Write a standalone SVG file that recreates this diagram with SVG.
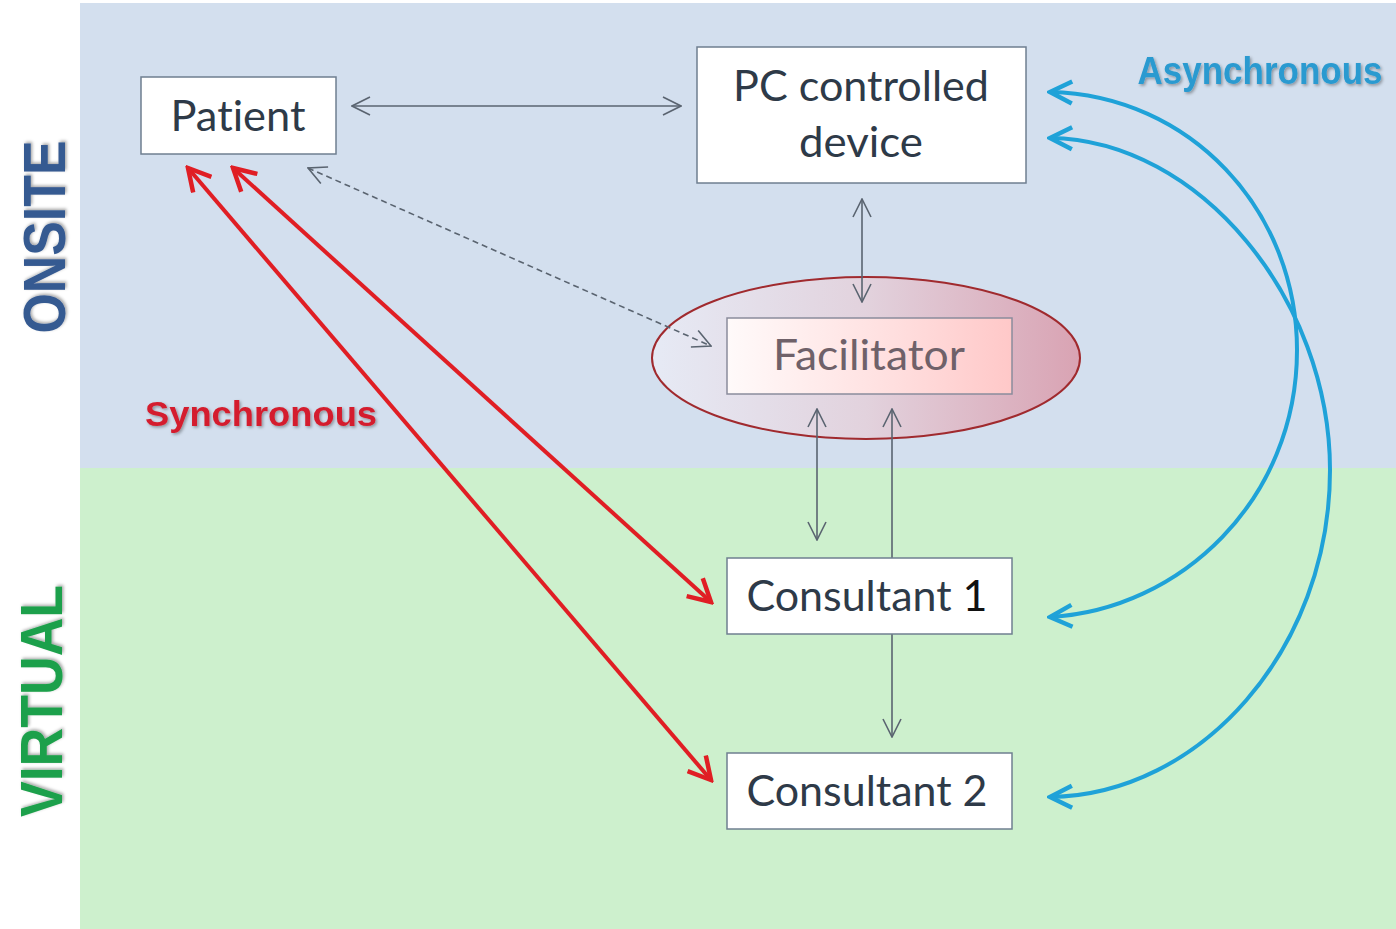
<svg xmlns="http://www.w3.org/2000/svg" width="1396" height="929" viewBox="0 0 1396 929">
  <style>
    .box { fill: #ffffff; stroke: #6f7f90; stroke-width: 1.5; }
    .lbl { font-family: Lato, "Open Sans", "Liberation Sans", sans-serif; font-size: 43px; fill: #2e3a48; text-anchor: middle; font-variant-ligatures: none; }
    .side { font-family: "Liberation Sans", Arial, sans-serif; font-weight: bold; font-size: 60px; text-anchor: middle; }
    .mode { font-family: "Liberation Sans", Arial, sans-serif; font-weight: bold; }
    .thin { fill: none; stroke: #5a6470; stroke-width: 1.6; }
    .dash { fill: none; stroke: #5a6470; stroke-width: 1.6; stroke-dasharray: 6 4; }
    .sync { fill: none; stroke: #e01e24; stroke-width: 4; }
    .async { fill: none; stroke: #1fa2d8; stroke-width: 4; }
  </style>
  <defs>
    <marker id="headThin" viewBox="0 0 20 20" markerWidth="20" markerHeight="20" refX="19" refY="10" orient="auto-start-reverse" markerUnits="userSpaceOnUse">
      <path d="M1,1 L19,10 L1,19" fill="none" stroke="#5a6470" stroke-width="1.6"/>
    </marker>
    <marker id="headRed" viewBox="0 0 28 28" markerWidth="28" markerHeight="28" refX="25" refY="14" orient="auto-start-reverse" markerUnits="userSpaceOnUse">
      <path d="M3,2 L25,14 L3,26" fill="none" stroke="#e01e24" stroke-width="4.5" stroke-linejoin="miter"/>
    </marker>
    <marker id="headBlue" viewBox="0 0 28 28" markerWidth="28" markerHeight="28" refX="25" refY="14" orient="auto-start-reverse" markerUnits="userSpaceOnUse">
      <path d="M3,3 L25,14 L3,25" fill="none" stroke="#1fa2d8" stroke-width="4.5" stroke-linejoin="miter"/>
    </marker>
    <linearGradient id="ovalFill" x1="0" y1="0" x2="1" y2="0">
      <stop offset="0" stop-color="#e6eaf5"/>
      <stop offset="0.5" stop-color="#e2d2dd"/>
      <stop offset="1" stop-color="#d9a3b3"/>
    </linearGradient>
    <linearGradient id="facFill" x1="0" y1="0" x2="1" y2="0">
      <stop offset="0" stop-color="#fffafa"/>
      <stop offset="0.6" stop-color="#ffdede"/>
      <stop offset="1" stop-color="#ffc8c8"/>
    </linearGradient>
    <filter id="soft" x="-3%" y="-15%" width="106%" height="130%">
      <feDropShadow dx="1.5" dy="1.5" stdDeviation="1.5" flood-color="#000" flood-opacity="0.35"/>
    </filter>
  </defs>

  <!-- page and zones -->
  <rect x="0" y="0" width="1396" height="929" fill="#ffffff"/>
  <rect x="80" y="3" width="1316" height="465" fill="#d3dfee"/>
  <rect x="80" y="468" width="1316" height="461" fill="#cdf0cd"/>

  <!-- zone titles -->
  <text class="side" fill="#365a91" filter="url(#soft)" textLength="193" lengthAdjust="spacingAndGlyphs" transform="translate(65,237) rotate(-90)">ONSITE</text>
  <text class="side" fill="#1ea04c" filter="url(#soft)" textLength="232" lengthAdjust="spacingAndGlyphs" transform="translate(62,701) rotate(-90)">VIRTUAL</text>

  <!-- mode labels -->
  <text class="mode" x="261" y="426" font-size="35" fill="#d41f2d" text-anchor="middle" textLength="232" lengthAdjust="spacingAndGlyphs" filter="url(#soft)">Synchronous</text>
  <text class="mode" font-size="35" fill="#2a9ad0" text-anchor="middle" filter="url(#soft)" transform="translate(1260,84) scale(1,1.12)">Asynchronous</text>

  <!-- facilitator highlight oval -->
  <g id="facilitator-oval">
    <ellipse cx="866" cy="358" rx="214" ry="81" fill="url(#ovalFill)" stroke="#a02a2e" stroke-width="2"/>
  </g>

  <!-- connectors -->
  <g id="connectors">
    <line class="thin" x1="352" y1="106" x2="681" y2="106" marker-start="url(#headThin)" marker-end="url(#headThin)"/>
    <line class="thin" x1="862" y1="199" x2="862" y2="302" marker-start="url(#headThin)" marker-end="url(#headThin)"/>
    <line class="dash" x1="308" y1="168" x2="711" y2="346" marker-start="url(#headThin)" marker-end="url(#headThin)"/>
    <line class="thin" x1="817" y1="409" x2="817" y2="540" marker-start="url(#headThin)" marker-end="url(#headThin)"/>
    <line class="thin" x1="892" y1="558" x2="892" y2="409" marker-end="url(#headThin)"/>
    <line class="thin" x1="892" y1="634" x2="892" y2="737" marker-end="url(#headThin)"/>
    <line class="sync" x1="188" y1="168" x2="711" y2="780" marker-start="url(#headRed)" marker-end="url(#headRed)"/>
    <line class="sync" x1="233" y1="168" x2="711" y2="602" marker-start="url(#headRed)" marker-end="url(#headRed)"/>
    <path class="async" d="M1050,92 C1190,95 1297,210 1297,350 C1297,500 1180,610 1050,617" marker-start="url(#headBlue)" marker-end="url(#headBlue)"/>
    <path class="async" d="M1050,138 C1200,140 1330,300 1330,470 C1330,650 1200,795 1050,797" marker-start="url(#headBlue)" marker-end="url(#headBlue)"/>
  </g>

  <!-- nodes -->
  <g id="patient">
    <rect class="box" x="141" y="77" width="195" height="77"/>
    <text class="lbl" x="238" y="131" textLength="135" lengthAdjust="spacingAndGlyphs">Patient</text>
  </g>
  <g id="pc-device">
    <rect class="box" x="697" y="47" width="329" height="136"/>
    <text class="lbl" x="861" y="101" textLength="256" lengthAdjust="spacingAndGlyphs">PC controlled</text>
    <text class="lbl" x="861" y="157" textLength="124" lengthAdjust="spacingAndGlyphs">device</text>
  </g>
  <g id="facilitator">
    <rect x="727" y="318" width="285" height="76" fill="url(#facFill)" stroke="#8a8c9c" stroke-width="1.5"/>
    <text class="lbl" x="869" y="370" style="fill:#6f6169" textLength="192" lengthAdjust="spacingAndGlyphs">Facilitator</text>
  </g>
  <g id="consultant-1">
    <rect class="box" x="727" y="558" width="285" height="76"/>
    <text class="lbl" x="867" y="611" textLength="241" lengthAdjust="spacingAndGlyphs">Consultant <tspan style="fill:#111111">1</tspan></text>
  </g>
  <g id="consultant-2">
    <rect class="box" x="727" y="753" width="285" height="76"/>
    <text class="lbl" x="867" y="806" textLength="241" lengthAdjust="spacingAndGlyphs">Consultant 2</text>
  </g>
</svg>
